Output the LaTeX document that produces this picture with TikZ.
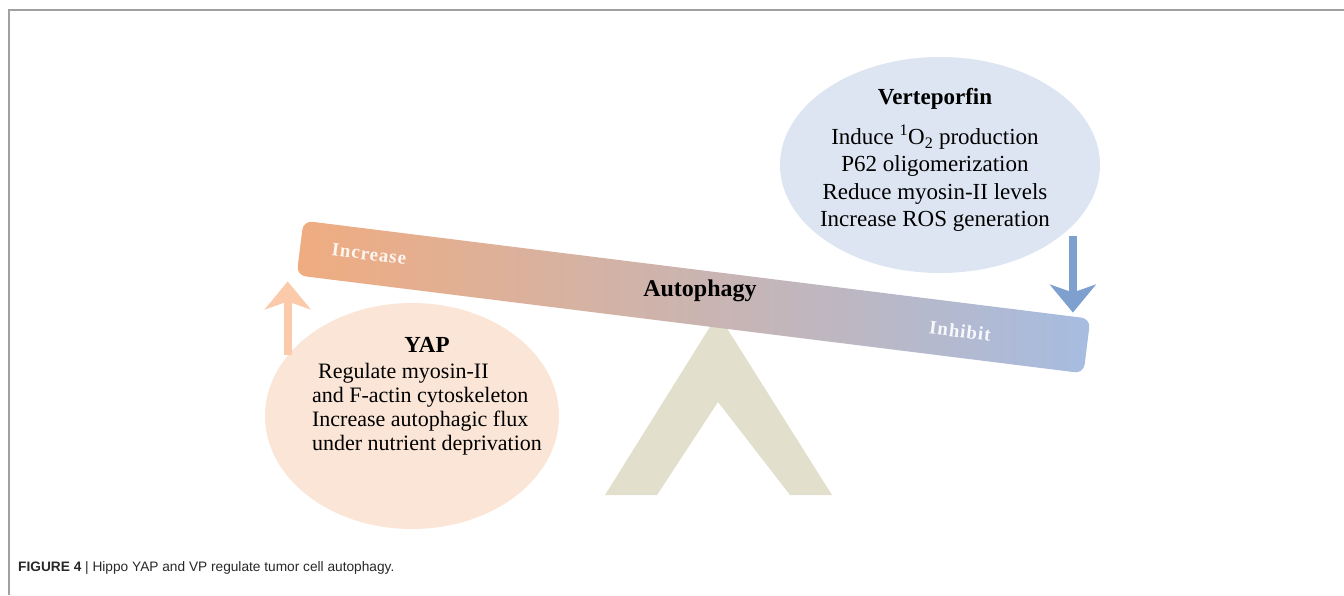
\documentclass[tikz,border=0pt]{standalone}
\usepackage{fontspec}
\setmainfont{Liberation Serif}
\newfontfamily\capfont{Liberation Sans}
\usepackage{tikz}
\usetikzlibrary{arrows.meta,positioning,shapes.geometric}
\definecolor{framegray}{RGB}{160,160,160}
\definecolor{yappeach}{RGB}{251,229,214}
\definecolor{vpblue}{RGB}{220,229,241}
\definecolor{beamorange}{RGB}{240,172,128}
\definecolor{beammid}{RGB}{212,190,182}
\definecolor{beamblue}{RGB}{166,188,224}
\definecolor{fulcrumtan}{RGB}{226,223,205}
\definecolor{uporange}{RGB}{250,202,170}
\definecolor{downblue}{RGB}{125,160,207}
\definecolor{captext}{RGB}{40,40,40}
\tikzset{
  disc/.style={ellipse, draw=none, inner sep=0pt},
  yapdisc/.style={disc, fill=yappeach, minimum width=294pt, minimum height=226pt},
  vpdisc/.style={disc, fill=vpblue, minimum width=320pt, minimum height=216pt},
  headtext/.style={font=\bfseries\fontsize{23}{27}\selectfont, inner sep=0pt},
  bodytext/.style={align=left, inner sep=0pt},
  beamlabel/.style={font=\bfseries\fontsize{19}{22}\selectfont\addfontfeature{LetterSpace=5},
                    rotate=-7.1, inner sep=0pt},
  fatarrow/.style={line width=8pt, -{Stealth[length=28pt, width=46pt, inset=8pt]}}
}

\begin{document}
\begin{tikzpicture}[x=1pt, y=-1pt]
  \useasboundingbox (0,0) rectangle (1344,595);
  % frame
  \draw[framegray, line width=1.2pt] (1344,10) -- (9,10) -- (9,595);
  % fulcrum
  \fill[fulcrumtan] (605,495) -- (718,314) -- (832,495) -- (790,495)
    -- (718,402) -- (657,495) -- cycle;
  % bubbles
  \node[yapdisc] (yap) at (412,416) {};
  \node[vpdisc] (vp) at (940,165) {};
  % beam
  \node[rounded corners=9pt, rotate=-7.1, minimum width=793pt, minimum height=55pt,
        inner sep=0pt, left color=beamorange, middle color=beammid,
        right color=beamblue] (beam) at (693.5,297) {};
  \node[beamlabel, text=white!88!beamorange] (inc) at (369,254) {Increase};
  \node[beamlabel, text=white!90!beamblue] (inh) at (960,331) {Inhibit};
  \node[headtext, font=\bfseries\fontsize{24}{28}\selectfont] (auto) at (700,291) {Autophagy};

  % YAP side
  \node[headtext] (yaptitle) at (427,345) {YAP};
  \node[bodytext, font=\fontsize{22}{24}\selectfont, below=10pt of yaptitle] (yapbody)
    {\hspace{6pt}Regulate myosin-II\\and F-actin cytoskeleton\\Increase autophagic flux\\under nutrient deprivation};
  % Verteporfin side
  \node[headtext] (vptitle) at (935,99) {Verteporfin};
  \node[bodytext, align=center, font=\fontsize{23}{27.3}\selectfont, below=15pt of vptitle] (vpbody)
    {Induce \textsuperscript{1}O\textsubscript{2} production\\P62 oligomerization\\Reduce myosin-II levels\\Increase ROS generation};

  % arrows
  \draw[fatarrow, uporange, shorten >=6pt] (yap.154) -- (yap.154 |- beam.south west);
  \coordinate (vpfoot) at ([xshift=7pt]vp.-28);
  \draw[fatarrow, downblue, shorten >=6pt, shorten <=4pt] (vpfoot) -- (vpfoot |- beam.north east);

  % caption
  \node[font=\capfont\fontsize{13.7}{16}\selectfont, text=captext, anchor=west, inner sep=0pt]
    (caption) at (18,568) {\textbf{FIGURE 4} | Hippo YAP and VP regulate tumor cell autophagy.};
\end{tikzpicture}
\end{document}
